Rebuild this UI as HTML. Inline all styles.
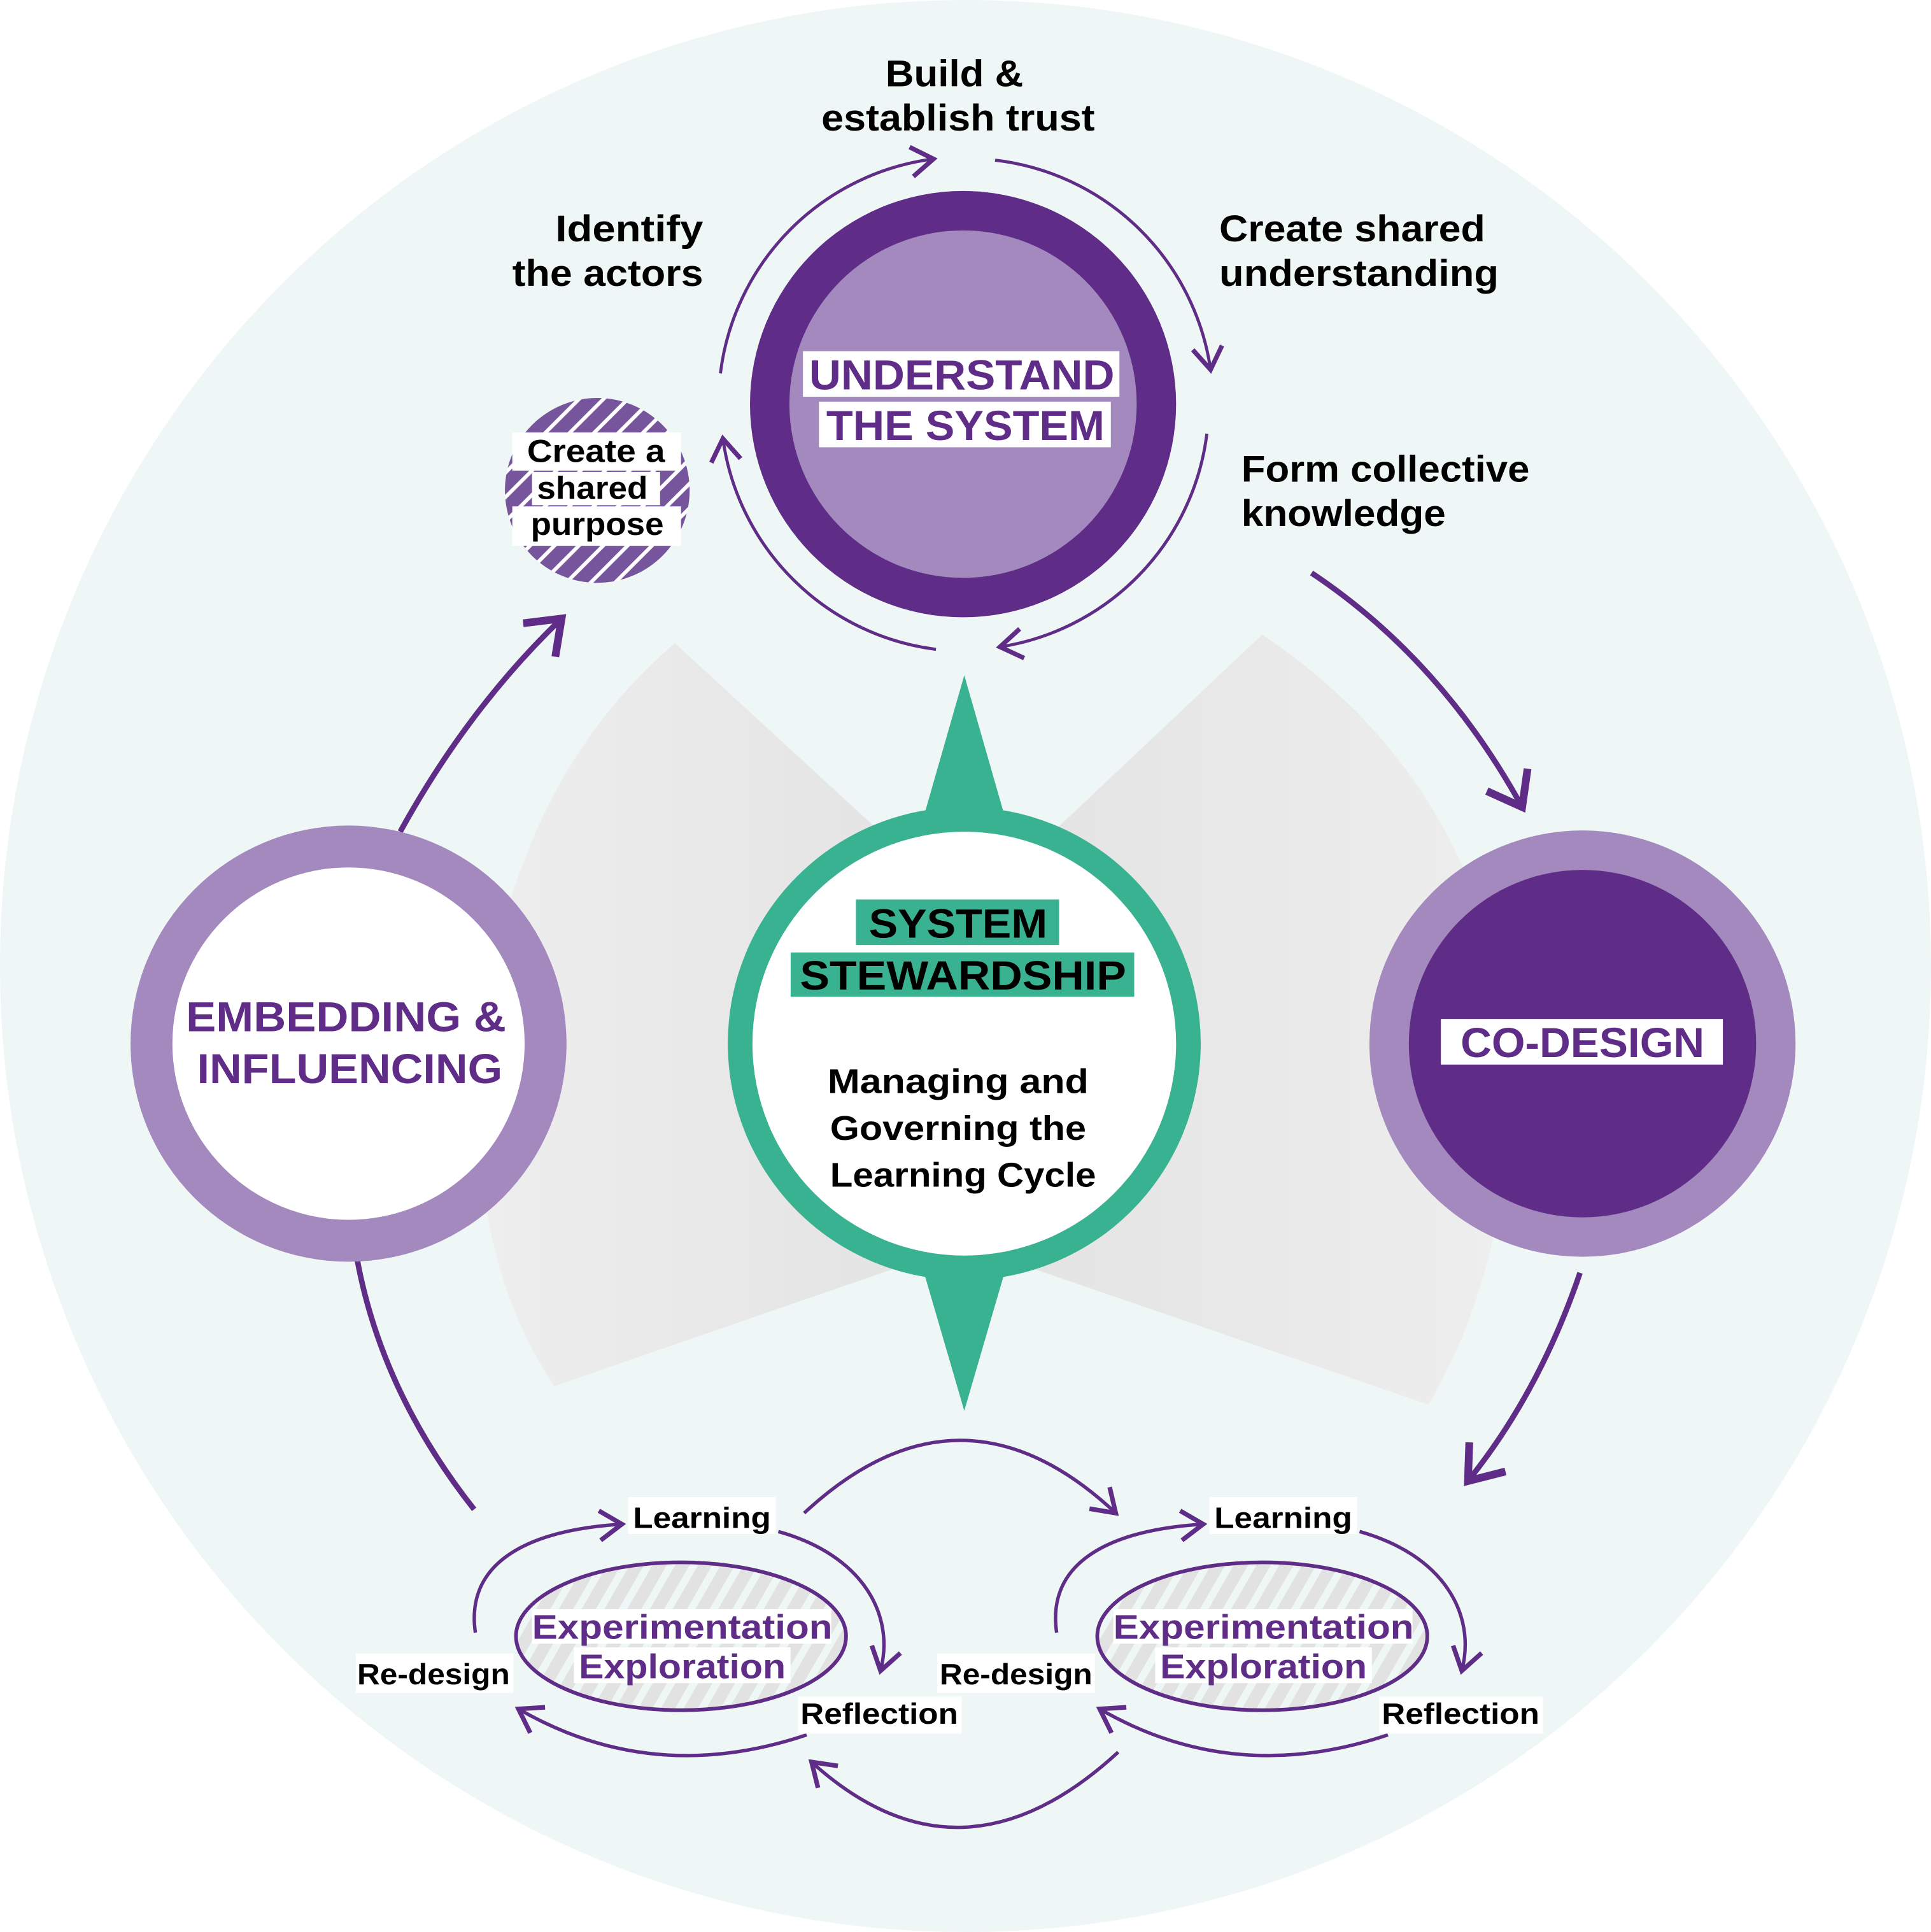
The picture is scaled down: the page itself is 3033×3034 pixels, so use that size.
<!DOCTYPE html>
<html><head><meta charset="utf-8"><style>html,body{margin:0;padding:0;background:#fff}svg{display:block}</style></head>
<body>
<svg width="3033" height="3034" viewBox="0 0 1568 1568" preserveAspectRatio="none" xmlns="http://www.w3.org/2000/svg" font-family="Liberation Sans, sans-serif" font-weight="bold">
<defs>
<marker id="a" markerUnits="userSpaceOnUse" markerWidth="30" markerHeight="30" refX="14" refY="10" orient="auto" viewBox="0 0 20 20"><path d="M2,2 L14,10 L2,18" fill="none" stroke="#5f2d87" stroke-width="2.5"/></marker>
<marker id="b" markerUnits="userSpaceOnUse" markerWidth="44" markerHeight="44" refX="18" refY="14" orient="auto" viewBox="0 0 28 28"><path d="M2,2 L18,14 L2,26" fill="none" stroke="#5f2d87" stroke-width="4"/></marker>
<pattern id="h" patternUnits="userSpaceOnUse" width="14" height="14" patternTransform="rotate(45)"><rect width="14" height="14" fill="#77559c"/><rect width="3" height="14" fill="#fff"/></pattern>
<pattern id="g" patternUnits="userSpaceOnUse" width="16" height="16" patternTransform="rotate(30)"><rect width="16" height="16" fill="#e2e2e2"/><rect width="6" height="16" fill="#eef7f5"/></pattern>
<linearGradient id="lg" x1="0" x2="1"><stop offset="0" stop-color="#eeeeee"/><stop offset="1" stop-color="#e4e4e4"/></linearGradient>
<linearGradient id="rg" x1="1" x2="0"><stop offset="0" stop-color="#eeeeee"/><stop offset="1" stop-color="#e4e4e4"/></linearGradient>
</defs>
<rect width="1568" height="1568" fill="#fff"/>
<circle cx="784" cy="784" r="784" fill="#eef7f5"/>
<path d="M548,522 L720,680 L725,1030 L450,1125 Q380,1020 390,860 Q410,640 548,522Z" fill="url(#lg)"/>
<path d="M1025,515 L850,680 L840,1030 L1160,1140 Q1230,1020 1225,860 Q1210,640 1025,515Z" fill="url(#rg)"/>
<path d="M783,548 L818,670 L748,670Z M783,1145 L818,1025 L748,1025Z" fill="#38b290"/>
<circle cx="783" cy="847" r="192" fill="#38b290"/>
<circle cx="783" cy="847" r="172" fill="#fff"/>
<rect x="695" y="730" width="165" height="37" fill="#38b290"/>
<rect x="642" y="773" width="279" height="36" fill="#38b290"/>
<text x="778" y="761" font-size="33" text-anchor="middle" fill="#000" textLength="145" lengthAdjust="spacingAndGlyphs">SYSTEM</text>
<text x="782" y="803" font-size="33" text-anchor="middle" fill="#000" textLength="265" lengthAdjust="spacingAndGlyphs">STEWARDSHIP</text>
<g font-size="28" text-anchor="middle" fill="#000">
<text x="778" y="887" textLength="212" lengthAdjust="spacingAndGlyphs">Managing and</text>
<text x="778" y="925" textLength="208" lengthAdjust="spacingAndGlyphs">Governing the</text>
<text x="782" y="963" textLength="216" lengthAdjust="spacingAndGlyphs">Learning Cycle</text>
</g>
<circle cx="782" cy="328" r="173" fill="#5f2d87"/>
<circle cx="782" cy="328" r="141" fill="#a389bd"/>
<rect x="652" y="285" width="257" height="37" fill="#fff"/>
<rect x="665" y="326" width="237" height="37" fill="#fff"/>
<text x="781" y="316" font-size="34" text-anchor="middle" fill="#5f2d87" textLength="248" lengthAdjust="spacingAndGlyphs">UNDERSTAND</text>
<text x="784" y="357" font-size="34" text-anchor="middle" fill="#5f2d87" textLength="226" lengthAdjust="spacingAndGlyphs">THE SYSTEM</text>
<g fill="none" stroke="#5f2d87" stroke-width="2.5">
<path d="M585,303 A200,200 0 0 1 758,129" marker-end="url(#a)"/>
<path d="M808,130 A200,200 0 0 1 983,300" marker-end="url(#a)"/>
<path d="M980,352 A200,200 0 0 1 812,525" marker-end="url(#a)"/>
<path d="M760,527 A200,200 0 0 1 587,356" marker-end="url(#a)"/>
</g>
<circle cx="485" cy="398" r="75" fill="url(#h)"/>
<rect x="416" y="351" width="137" height="31" fill="#fff"/>
<rect x="432" y="383" width="104" height="27" fill="#fff"/>
<rect x="416" y="411" width="137" height="32" fill="#fff"/>
<g font-size="26" text-anchor="middle" fill="#000">
<text x="484" y="375" textLength="112" lengthAdjust="spacingAndGlyphs">Create a</text>
<text x="481" y="405" textLength="90" lengthAdjust="spacingAndGlyphs">shared</text>
<text x="485" y="434" textLength="108" lengthAdjust="spacingAndGlyphs">purpose</text>
</g>
<g font-size="30" fill="#000">
<text x="775" y="70" text-anchor="middle" textLength="112" lengthAdjust="spacingAndGlyphs">Build &amp;</text>
<text x="778" y="106" text-anchor="middle" textLength="222" lengthAdjust="spacingAndGlyphs">establish trust</text>
<text x="571" y="196" text-anchor="end" textLength="120" lengthAdjust="spacingAndGlyphs">Identify</text>
<text x="571" y="232" text-anchor="end" textLength="155" lengthAdjust="spacingAndGlyphs">the actors</text>
<text x="990" y="196" textLength="216" lengthAdjust="spacingAndGlyphs">Create shared</text>
<text x="990" y="232" textLength="227" lengthAdjust="spacingAndGlyphs">understanding</text>
<text x="1008" y="391" textLength="234" lengthAdjust="spacingAndGlyphs">Form collective</text>
<text x="1008" y="427" textLength="166" lengthAdjust="spacingAndGlyphs">knowledge</text>
</g>
<g fill="none" stroke="#5f2d87" stroke-width="4.5">
<path d="M1065,465 Q1170,535 1236,655" marker-end="url(#b)"/>
<path d="M1283,1033 Q1250,1130 1192,1202" marker-end="url(#b)"/>
<path d="M385,1225 Q310,1130 290,1022"/>
<path d="M325,675 Q380,575 456,502" marker-end="url(#b)"/>
</g>
<circle cx="1285" cy="847" r="173" fill="#a389bd"/>
<circle cx="1285" cy="847" r="141" fill="#5f2d87"/>
<rect x="1170" y="827" width="229" height="37" fill="#fff"/>
<text x="1285" y="858" font-size="34" text-anchor="middle" fill="#5f2d87" textLength="198" lengthAdjust="spacingAndGlyphs">CO-DESIGN</text>
<circle cx="283" cy="847" r="177" fill="#a389bd"/>
<circle cx="283" cy="847" r="143" fill="#fff"/>
<text x="281" y="837" font-size="34" text-anchor="middle" fill="#5f2d87" textLength="260" lengthAdjust="spacingAndGlyphs">EMBEDDING &amp;</text>
<text x="284" y="879" font-size="34" text-anchor="middle" fill="#5f2d87" textLength="248" lengthAdjust="spacingAndGlyphs">INFLUENCING</text>
<g fill="none" stroke="#5f2d87" stroke-width="2.8">
<path d="M653,1228 Q780,1110 906,1228" marker-end="url(#a)"/>
<path d="M908,1422 Q780,1540 659,1430" marker-end="url(#a)"/>
</g>
<g id="loop">
<ellipse cx="553" cy="1328" rx="134" ry="60" fill="url(#g)" stroke="#5f2d87" stroke-width="3"/>
<g fill="none" stroke="#5f2d87" stroke-width="2.8">
<path d="M386,1325 C378,1270 425,1242 505,1237" marker-end="url(#a)"/>
<path d="M632,1243 C700,1262 727,1310 715,1356" marker-end="url(#a)"/>
<path d="M655,1408 Q530,1450 421,1387" marker-end="url(#a)"/>
</g>
<rect x="432" y="1306" width="243" height="28" fill="#fff"/>
<rect x="466" y="1337" width="176" height="29" fill="#fff"/>
<text x="554" y="1330" font-size="28" text-anchor="middle" fill="#5f2d87" textLength="244" lengthAdjust="spacingAndGlyphs">Experimentation</text>
<text x="554" y="1362" font-size="28" text-anchor="middle" fill="#5f2d87" textLength="168" lengthAdjust="spacingAndGlyphs">Exploration</text>
<rect x="510" y="1215" width="120" height="30" fill="#fff"/>
<text x="570" y="1240" font-size="24" text-anchor="middle" fill="#000" textLength="112" lengthAdjust="spacingAndGlyphs">Learning</text>
<rect x="648" y="1377" width="133" height="30" fill="#fff"/>
<text x="714" y="1399" font-size="24" text-anchor="middle" fill="#000" textLength="128" lengthAdjust="spacingAndGlyphs">Reflection</text>
</g>
<use href="#loop" transform="translate(472,0)"/>
<rect x="289" y="1342" width="128" height="32" fill="#fff"/>
<text x="352" y="1367" font-size="24" text-anchor="middle" fill="#000" textLength="124" lengthAdjust="spacingAndGlyphs">Re-design</text>
<rect x="761" y="1342" width="128" height="32" fill="#fff"/>
<text x="825" y="1367" font-size="24" text-anchor="middle" fill="#000" textLength="124" lengthAdjust="spacingAndGlyphs">Re-design</text>
</svg>
</body></html>
